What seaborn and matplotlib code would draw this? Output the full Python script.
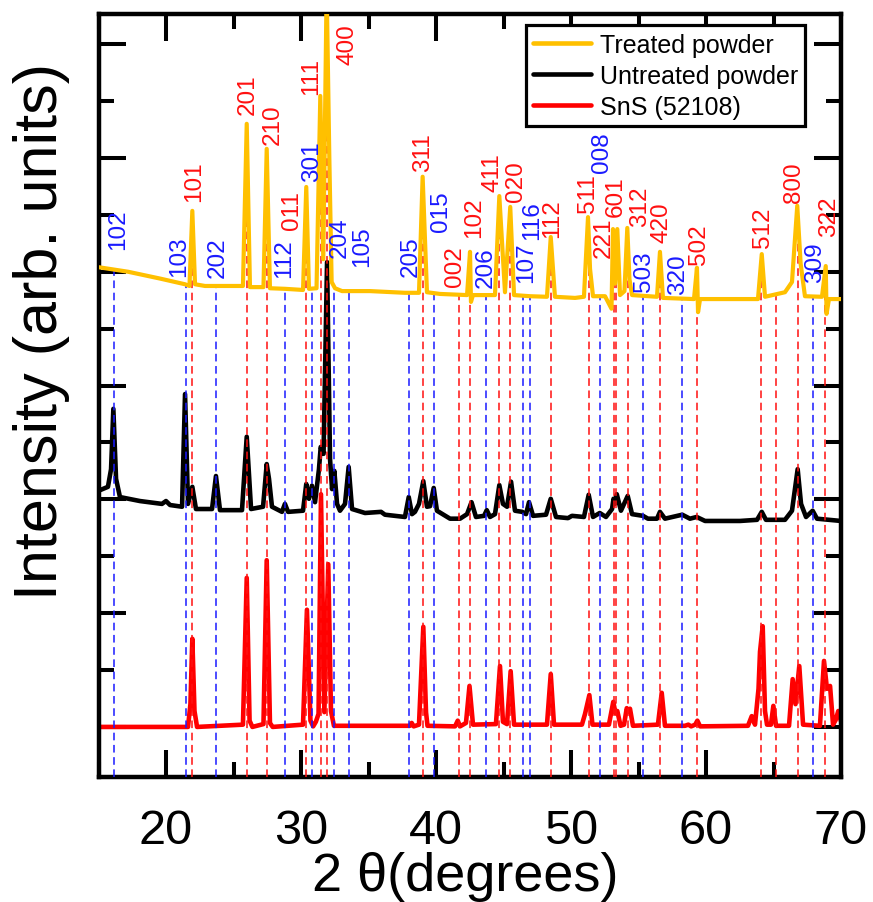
import numpy as np
import pandas as pd
import matplotlib
matplotlib.use("Agg")
import matplotlib.pyplot as plt
from matplotlib.lines import Line2D
from matplotlib.ticker import MultipleLocator
import seaborn as sns

# ---- XRD patterns: (2theta, intensity in arbitrary counts incl. vertical offset) ----
treated = [
    (15.00, 4040), (17.19, 4000), (19.56, 3940), (21.41, 3890), (21.74, 3875),
    (21.95, 4535), (22.15, 3890), (22.89, 3875), (25.70, 3875), (25.98, 5300),
    (26.22, 3865), (27.22, 3865), (27.46, 5080), (27.70, 3855), (28.81, 3850),
    (30.15, 3840), (30.39, 4745), (30.59, 3850), (31.15, 3855), (31.43, 5545),
    (31.65, 4110), (31.90, 6500), (32.10, 4990), (32.27, 3910), (32.52, 3855),
    (33.04, 3830), (35.11, 3830), (37.70, 3815), (38.74, 3815), (39.01, 4835),
    (39.33, 3820), (40.30, 3805), (42.30, 3795), (42.52, 4175), (42.59, 3735),
    (42.74, 3795), (44.37, 3795), (44.69, 4665), (45.11, 3820), (45.50, 4570),
    (45.78, 3795), (46.96, 3785), (48.22, 3780), (48.50, 4305), (48.81, 3780),
    (50.30, 3770), (50.96, 3780), (51.26, 4480), (51.41, 4025), (51.63, 3785),
    (52.52, 3785), (53.00, 3675), (53.11, 4375), (53.26, 3895), (53.43, 4375),
    (53.63, 3795), (53.96, 3830), (54.17, 4385), (54.33, 3935), (54.52, 3795),
    (56.37, 3780), (56.59, 4175), (56.81, 3770), (59.11, 3760), (59.33, 4035),
    (59.41, 3645), (59.56, 3760), (63.85, 3760), (64.13, 4155), (64.37, 3780),
    (65.85, 3820), (66.37, 3910), (66.76, 4580), (67.01, 4070), (67.33, 3785),
    (68.59, 3780), (68.87, 4050), (68.93, 3630), (69.11, 3760), (70.00, 3760),
]

untreated = [
    (15.00, 2075), (15.70, 2110), (15.93, 2265), (16.10, 2795), (16.30, 2180),
    (16.59, 2020), (18.07, 1985), (19.70, 1960), (20.00, 1985), (20.30, 1950),
    (21.19, 1935), (21.41, 2925), (21.63, 1960), (21.95, 2110), (22.22, 1915),
    (23.41, 1915), (23.70, 2205), (24.00, 1905), (25.63, 1905), (25.98, 2550),
    (26.30, 1915), (27.19, 1935), (27.46, 2310), (27.63, 2180), (27.85, 1935),
    (28.59, 1890), (28.81, 1960), (29.04, 1890), (30.15, 1900), (30.39, 2135),
    (30.59, 2005), (30.81, 2120), (31.04, 1975), (31.33, 2265), (31.46, 2460),
    (31.67, 2400), (31.93, 4085), (32.15, 2355), (32.30, 2090), (32.47, 2250),
    (32.67, 1960), (32.89, 1900), (33.26, 1960), (33.53, 2285), (33.78, 1915),
    (34.74, 1880), (35.93, 1890), (36.22, 1865), (37.70, 1845), (37.98, 2020),
    (38.22, 1870), (38.44, 1890), (38.74, 1960), (39.06, 2160), (39.33, 1935),
    (39.56, 1940), (39.83, 2100), (40.07, 1900), (41.04, 1830), (41.78, 1830),
    (42.30, 1870), (42.63, 1975), (42.96, 1845), (43.56, 1855), (43.76, 1905),
    (44.00, 1845), (44.37, 1870), (44.69, 2125), (44.96, 1960), (45.26, 1935),
    (45.56, 2155), (45.85, 1900), (46.39, 1890), (46.67, 1870), (46.89, 1975),
    (47.19, 1855), (48.15, 1865), (48.50, 2005), (48.89, 1845), (49.78, 1835),
    (50.07, 1855), (50.96, 1845), (51.31, 2040), (51.63, 1845), (52.13, 1880),
    (52.59, 1845), (53.04, 1915), (53.15, 2005), (53.25, 1960), (53.39, 2045),
    (53.70, 1900), (54.20, 2030), (54.52, 1870), (55.33, 1855), (55.70, 1830),
    (56.37, 1830), (56.59, 1890), (56.96, 1830), (58.24, 1865), (58.81, 1830),
    (59.31, 1845), (59.93, 1810), (62.52, 1810), (63.78, 1820), (64.13, 1890),
    (64.44, 1820), (65.85, 1820), (66.37, 1900), (66.79, 2265), (67.04, 1960),
    (67.41, 1845), (67.90, 1900), (68.22, 1830), (70.00, 1810),
]

sns_ref = [
    (15.00, 0), (21.63, 0), (21.81, 200), (21.95, 775), (22.11, 140),
    (22.30, 0), (25.70, 20), (25.98, 1310), (26.19, 55), (26.40, 0),
    (27.22, 25), (27.46, 1465), (27.70, 35), (27.90, 0), (30.15, 20),
    (30.44, 1030), (30.70, 55), (30.90, 5), (31.10, 45), (31.30, 115),
    (31.48, 2045), (31.73, 130), (32.02, 1430), (32.22, 140), (32.44, 10),
    (38.07, 10), (38.20, 35), (38.35, 5), (38.74, 20), (39.06, 880),
    (39.26, 130), (39.37, 10), (41.41, 5), (41.61, 55), (41.78, 5),
    (42.22, 35), (42.48, 360), (42.74, 20), (44.44, 25), (44.74, 535),
    (44.96, 45), (45.26, 25), (45.53, 490), (45.78, 20), (48.22, 20),
    (48.50, 465), (48.74, 20), (50.81, 20), (51.04, 115), (51.36, 280),
    (51.59, 20), (52.81, 20), (53.13, 220), (53.30, 120), (53.43, 140),
    (53.67, 10), (53.93, 20), (54.13, 165), (54.25, 135), (54.37, 160),
    (54.59, 10), (56.44, 20), (56.72, 300), (56.96, 10), (58.44, 10),
    (58.69, 20), (58.90, 5), (59.20, 20), (59.36, 55), (59.56, 5),
    (63.11, 10), (63.39, 95), (63.63, 20), (63.89, 335), (64.00, 660),
    (64.20, 885), (64.37, 140), (64.52, 20), (64.81, 20), (64.99, 185),
    (65.19, 10), (66.15, 10), (66.42, 420), (66.63, 200), (66.91, 535),
    (67.19, 20), (68.44, 10), (68.74, 580), (68.96, 335), (69.19, 360),
    (69.41, 20), (69.60, 60), (69.80, 140), (70.00, 50),
]

# ---- reflection markers: hkl, 2theta, phase (R = SnS, B = secondary phase) ----
ref_hkl = ['102', '103', '101', '202', '201', '210', '112', '011', '301', '111',
           '400', '204', '105', '205', '311', '015', '002', '102', '206', '411',
           '020', '107', '116', '112', '511', '008', '221', '601', '312', '503',
           '420', '320', '502', '512', '', '800', '309', '322']
ref_2theta = [16.15, 21.46, 21.95, 23.70, 25.98, 27.46, 28.81, 30.39, 30.81, 31.46,
              31.93, 32.47, 33.53, 38.00, 39.01, 39.85, 41.68, 42.54, 43.74, 44.69,
              45.50, 46.43, 46.93, 48.50, 51.30, 52.13, 53.15, 53.37, 54.19, 55.37,
              56.59, 58.24, 59.36, 64.07, 65.22, 66.79, 67.90, 68.79]
ref_phase = ['B', 'B', 'R', 'B', 'R', 'R', 'B', 'R', 'B', 'R',
             'R', 'B', 'B', 'B', 'R', 'B', 'R', 'R', 'B', 'R',
             'R', 'B', 'B', 'R', 'R', 'B', 'R', 'R', 'R', 'B',
             'R', 'B', 'R', 'R', 'R', 'R', 'B', 'R']
# where each hkl tag sits (2theta of its centre, intensity of its lower end)
tag_2theta = [16.44, 20.96, 22.07, 23.81, 26.03, 27.89, 28.74, 29.37, 30.85, 30.78,
              33.41, 32.89, 34.52, 38.15, 39.04, 40.37, 41.41, 42.81, 43.70, 44.15,
              45.93, 46.67, 47.11, 48.59, 51.26, 52.30, 52.44, 53.33, 55.11, 55.41,
              56.74, 57.93, 59.48, 64.22, 0.0, 66.52, 68.07, 69.10]
tag_counts = [4200, 3965, 4620, 3955, 5385, 5125, 3955, 4375, 4800, 5560,
              5825, 4130, 4050, 3965, 4885, 4360, 3875, 4305, 3865, 4710,
              4620, 3910, 4290, 4305, 4525, 4875, 4130, 4490, 4400, 3830,
              4260, 3805, 4070, 4220, 0, 4615, 3910, 4315]

series_names = ['Treated powder', 'Untreated powder', 'SnS (52108)']
series_colors = ['#FFC000', '#000000', '#FF0000']
phase_colors = {'R': '#FF1010', 'B': '#1A1AFF'}

sns.set_style('ticks')
plt.rcParams['font.family'] = ['Liberation Sans', 'DejaVu Sans']
plt.rcParams['text.color'] = 'black'
plt.rcParams['axes.labelcolor'] = 'black'
plt.rcParams['xtick.color'] = 'black'
plt.rcParams['ytick.color'] = 'black'

fig = plt.figure(figsize=(8.73, 9.03), dpi=100)
ax = fig.add_axes([98.5 / 873, 1 - 778 / 903, 742.5 / 873, 763 / 903])

x_lo, x_hi = 15, 70
y_lo, y_hi = -440, 6265

frames = {}
for name, pts in zip(series_names, [treated, untreated, sns_ref]):
    frames[name] = pd.DataFrame(pts, columns=['two_theta', 'counts'])

# SnS reference and untreated powder at the back
sns.lineplot(data=frames['SnS (52108)'], x='two_theta', y='counts', ax=ax,
             color=series_colors[2], linewidth=3.3, estimator=None, sort=False,
             solid_joinstyle='round', zorder=2, legend=False)
sns.lineplot(data=frames['Untreated powder'], x='two_theta', y='counts', ax=ax,
             color=series_colors[1], linewidth=3.3, estimator=None, sort=False,
             solid_joinstyle='round', zorder=3, legend=False)

# dashed reflection markers running up to the treated pattern
tr = frames['Treated powder']
line_top = np.interp(ref_2theta, tr['two_theta'], tr['counts'])
for x, top, ph in zip(ref_2theta, line_top, ref_phase):
    ax.vlines(x, y_lo, top, colors=phase_colors[ph], linestyles=(0, (5, 3)),
              linewidth=1.1, zorder=4)

sns.lineplot(data=tr, x='two_theta', y='counts', ax=ax,
             color=series_colors[0], linewidth=3.0, estimator=None, sort=False,
             solid_joinstyle='round', zorder=5, legend=False)

# hkl tags
for hkl, tx, ty, ph in zip(ref_hkl, tag_2theta, tag_counts, ref_phase):
    if not hkl:
        continue
    ax.text(tx, ty, hkl, rotation=90, ha='center', va='bottom',
            color=phase_colors[ph], fontsize=17.5, zorder=6)

ax.set_xlim(x_lo, x_hi)
ax.set_ylim(y_lo, y_hi)
ax.xaxis.set_major_locator(MultipleLocator(10))
ax.xaxis.set_minor_locator(MultipleLocator(5))
ax.yaxis.set_major_locator(MultipleLocator(1000))
ax.yaxis.set_minor_locator(MultipleLocator(500))
ax.tick_params(which='both', direction='in', top=True, right=True,
               color='black', labelcolor='black', width=2.9)
ax.tick_params(which='major', length=19.5, labelsize=35, pad=22)
ax.tick_params(which='minor', length=10.8)
ax.tick_params(axis='y', labelleft=False)
for sp in ax.spines.values():
    sp.set_linewidth(3.2)
    sp.set_color('black')

ax.set_xlabel('2 θ(degrees)', fontsize=39, color='black')
ax.set_ylabel('Intensity (arb. units)', fontsize=44, color='black')
ax.xaxis.set_label_coords(0.494, -0.097)
ax.yaxis.set_label_coords(-0.038, 0.585)

handles = [Line2D([], [], color=c, linewidth=3.3) for c in series_colors]
leg = ax.legend(handles, series_names, loc='upper right',
                bbox_to_anchor=(0.952, 0.985), fontsize=18, frameon=True,
                fancybox=False, edgecolor='black', framealpha=1,
                handlelength=2.3, handletextpad=0.35, borderpad=0.3,
                labelspacing=0.28, borderaxespad=0)
leg.get_frame().set_linewidth(2.3)
leg.set_zorder(10)
for t in leg.get_texts():
    t.set_color('black')

fig.savefig('out.png', dpi=100)
